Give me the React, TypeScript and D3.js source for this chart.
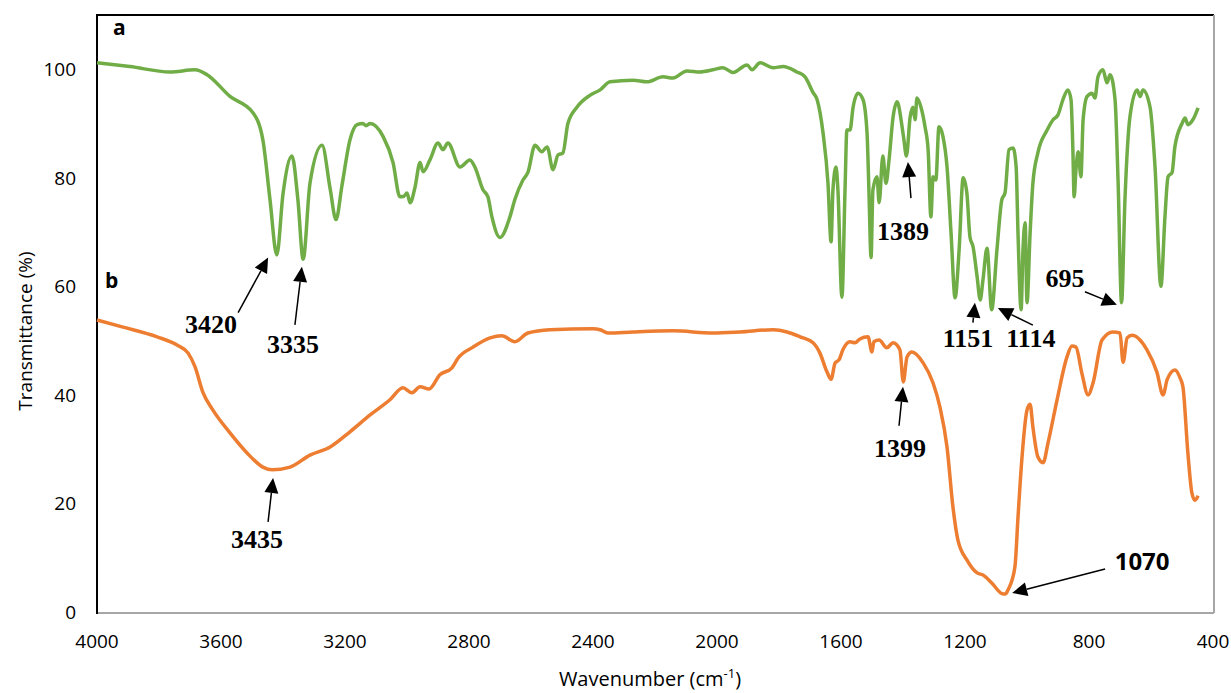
import React from 'react';
import * as d3 from 'd3';

// wavenumber (cm-1) and transmittance (%)
const wnA = [4000,3894,3765,3684,3645,3571,3497,3465,3442,3420,3400,3371,3352,3335,3313,3274,3248,3229,3210,3184,3161,3142,3132,3119,3077,3045,3023,3010,3000,2990,2974,2958,2948,2926,2900,2884,2868,2829,2797,2781,2755,2739,2726,2700,2668,2652,2626,2610,2587,2565,2548,2529,2513,2497,2481,2452,2410,2377,2345,2271,2226,2174,2142,2097,2055,2013,1981,1948,1903,1887,1861,1819,1787,1742,1716,1690,1677,1658,1642,1632,1626,1616,1610,1597,1587,1581,1571,1561,1545,1529,1516,1510,1503,1497,1484,1477,1465,1455,1445,1432,1419,1403,1397,1389,1377,1368,1361,1355,1342,1329,1319,1310,1303,1294,1284,1271,1258,1245,1232,1219,1206,1194,1184,1174,1161,1151,1142,1129,1114,1097,1081,1071,1058,1045,1035,1029,1019,1013,1006,1000,990,981,965,935,916,900,884,868,858,852,848,842,835,826,819,806,790,781,771,755,742,732,716,706,695,684,668,645,635,626,603,587,568,555,545,532,523,500,490,481,465,448];
const tA = [101.2,100.5,99.5,99.9,99.0,95.0,92.0,87.0,76.0,65.8,77.0,84.0,76.0,65.0,79.0,86.0,78.0,72.3,78.5,87.0,89.8,90.0,89.6,90.0,87.6,82.8,76.5,76.6,77.2,75.4,78.3,82.8,81.1,83.3,86.4,85.2,86.4,82.0,83.3,82.0,77.8,76.5,72.8,69.0,72.8,76.0,79.6,81.0,86.0,84.8,85.7,81.5,84.2,84.6,90.0,93.0,95.2,96.2,97.7,98.0,97.7,98.6,98.4,99.7,99.5,99.9,100.3,99.4,100.8,99.9,101.2,100.3,100.5,99.5,98.6,95.7,94.4,88.3,79.0,68.2,77.8,82.0,77.8,58.0,77.8,88.8,88.8,93.0,95.6,94.4,88.3,77.8,65.3,77.8,80.2,75.4,84.0,79.0,83.3,91.2,94.0,89.4,87.0,84.0,91.2,93.0,90.7,94.7,93.0,89.4,85.2,72.8,80.2,79.6,89.4,87.6,82.0,69.8,57.9,66.7,80.0,77.2,69.1,67.3,61.8,57.5,61.2,67.0,55.7,66.7,76.0,77.2,85.2,85.5,82.0,69.8,55.7,66.7,71.7,57.0,69.8,79.0,84.6,88.8,90.7,91.6,94.4,96.2,94.4,85.2,76.5,81.5,84.8,80.2,90.7,95.0,95.6,94.7,98.6,99.9,97.5,99.0,94.4,79.0,57.0,76.0,91.2,96.2,95.0,96.2,93.0,82.0,60.0,72.8,80.2,81.0,85.7,90.0,91.0,89.8,90.7,92.9];

const wnB = [4000,3916,3806,3742,3706,3684,3658,3626,3571,3516,3465,3435,3377,3313,3248,3184,3119,3055,3013,2984,2958,2929,2894,2855,2835,2787,2732,2694,2652,2610,2539,2400,2377,2352,2271,2142,2013,1926,1819,1774,1732,1690,1668,1645,1632,1619,1606,1594,1571,1555,1539,1513,1500,1494,1477,1452,1432,1410,1399,1387,1371,1335,1303,1281,1258,1239,1223,1194,1161,1142,1113,1081,1070,1061,1039,1029,1016,1000,990,981,965,948,932,903,871,855,842,823,803,787,758,723,700,690,677,661,613,581,561,548,523,506,497,481,468,458,448];
const tB = [53.8,52.5,50.7,49.2,47.7,45.2,40.4,37.2,33.0,29.3,26.7,26.2,26.7,28.9,30.4,33.2,36.3,39.1,41.3,40.4,41.5,41.1,43.7,45.0,46.8,48.8,50.5,50.9,49.8,51.4,52.0,52.2,52.0,51.4,51.6,51.8,51.4,51.6,52.0,51.6,50.7,49.6,47.7,44.2,42.9,45.9,46.5,48.3,49.8,49.6,50.3,50.7,47.9,49.8,50.1,48.7,49.6,48.3,42.4,47.0,47.9,45.9,42.2,37.8,30.4,19.4,13.3,9.6,7.2,6.8,5.3,3.4,3.3,4.1,8.3,17.5,28.6,37.2,38.3,34.1,28.6,27.5,31.2,39.1,47.0,49.0,48.8,44.0,40.0,42.2,50.1,51.6,51.4,46.0,50.5,51.0,48.3,44.2,40.0,42.8,44.6,43.1,41.5,29.3,21.9,20.6,21.4];

const xTicks = [4000, 3600, 3200, 2800, 2400, 2000, 1600, 1200, 800, 400];
const yTicks = [0, 20, 40, 60, 80, 100];

// peak annotations: label, arrow tip (wavenumber, %T)
const peakLabels = ['3420', '3335', '3435', '1389', '1151', '1114', '695', '1399', '1070'];
const peakTipWn = [3448, 3339, 3432, 1384, 1168, 1094, 710, 1400, 1048];
const peakTipT = [65.3, 63.6, 24.7, 82.9, 57.0, 56.0, 56.6, 41.5, 3.5];
// layout offsets from the tip, in px: arrow tail and text baseline centre
const peakLayout = [
  { tx: -30, ty: 55, lx: -57, ly: 75 },
  { tx: -7, ty: 58, lx: -9, ly: 86 },
  { tx: -5, ty: 44, lx: -16, ly: 70 },
  { tx: 3, ty: 36, lx: -5, ly: 78 },
  { tx: -2, ty: 20, lx: -7, ly: 44 },
  { tx: 35, ty: 17, lx: 33, ly: 39 },
  { tx: -32, ty: -13, lx: -52, ly: -18 },
  { tx: -4, ty: 39, lx: -3, ly: 70 },
  { tx: 93, ty: -24, lx: 130, ly: -23, sans: true },
];

const W = 1231;
const H = 693;
const left = 97, right = 1213, top = 15, bottom = 612;

export default function App() {
  const x = d3.scaleLinear().domain([4000, 400]).range([left, right]);
  const y = d3.scaleLinear().domain([0, 110]).range([bottom, top]);

  const line = d3.line<[number, number]>()
    .x(d => x(d[0]))
    .y(d => y(d[1]))
    .curve(d3.curveMonotoneX);

  const rowsA = wnA.map((w, i) => [w, tA[i]] as [number, number]);
  const rowsB = wnB.map((w, i) => [w, tB[i]] as [number, number]);

  const sans = '"Open Sans", sans-serif';
  const serif = '"Liberation Serif", "Times New Roman", serif';

  return (
    <svg width={W} height={H} style={{ position: 'absolute', left: 0, top: 0, background: '#fff' }}>
      {/* frame */}
      <line x1={left} x2={1214} y1={top} y2={top} stroke="#000" strokeWidth={2} />
      <line x1={1214} x2={1214} y1={top} y2={bottom + 1} stroke="#a6a6a6" strokeWidth={2} />
      <line x1={left} x2={1214} y1={bottom + 1} y2={bottom + 1} stroke="#a6a6a6" strokeWidth={2} />
      <line x1={left} x2={left} y1={top - 1} y2={bottom + 2} stroke="#000" strokeWidth={2} />

      {yTicks.map(t => (
        <text key={'y' + t} x={76} y={y(t) + 7} textAnchor="end" fontFamily={sans} fontSize={19} fill="#000">{t}</text>
      ))}
      {xTicks.map(t => (
        <text key={'x' + t} x={x(t)} y={648} textAnchor="middle" fontFamily={sans} fontSize={19} fill="#000">{t}</text>
      ))}

      <text transform={`translate(32,${331}) rotate(-90)`} textAnchor="middle" fontFamily={sans} fontSize={19} fill="#000">Transmittance (%)</text>
      <text x={650} y={686} textAnchor="middle" fontFamily={sans} fontSize={20} fill="#000">
        Wavenumber (cm<tspan dy={-8} fontSize={13}>-1</tspan><tspan dy={8}>)</tspan>
      </text>

      <path d={line(rowsA) || ''} fill="none" stroke="#70ad47" strokeWidth={3.5} strokeLinejoin="round" />
      <path d={line(rowsB) || ''} fill="none" stroke="#ed7d31" strokeWidth={3.5} strokeLinejoin="round" />

      <text x={113} y={35} fontFamily={sans} fontWeight="bold" fontSize={21} fill="#000">a</text>
      <text x={105} y={288} fontFamily={sans} fontWeight="bold" fontSize={21} fill="#000">b</text>

      {peakLabels.map((lab, i) => {
        const px = x(peakTipWn[i]);
        const py = y(peakTipT[i]);
        const L = peakLayout[i];
        const tx = px + L.tx, ty = py + L.ty;
        const ang = Math.atan2(py - ty, px - tx);
        const len = 15, hw = 7;
        const bx = px - len * Math.cos(ang), by = py - len * Math.sin(ang);
        const nx = -Math.sin(ang) * hw, ny = Math.cos(ang) * hw;
        const head = `M${px},${py}L${bx + nx},${by + ny}L${bx - nx},${by - ny}Z`;
        return (
          <g key={lab}>
            <line x1={tx} y1={ty} x2={bx} y2={by} stroke="#000" strokeWidth={1.5} />
            <path d={head} fill="#000" />
            <text x={px + L.lx} y={py + L.ly} textAnchor="middle"
              fontFamily={L.sans ? sans : serif} fontWeight="bold"
              fontSize={L.sans ? 24 : 26} fill="#000">{lab}</text>
          </g>
        );
      })}
    </svg>
  );
}
